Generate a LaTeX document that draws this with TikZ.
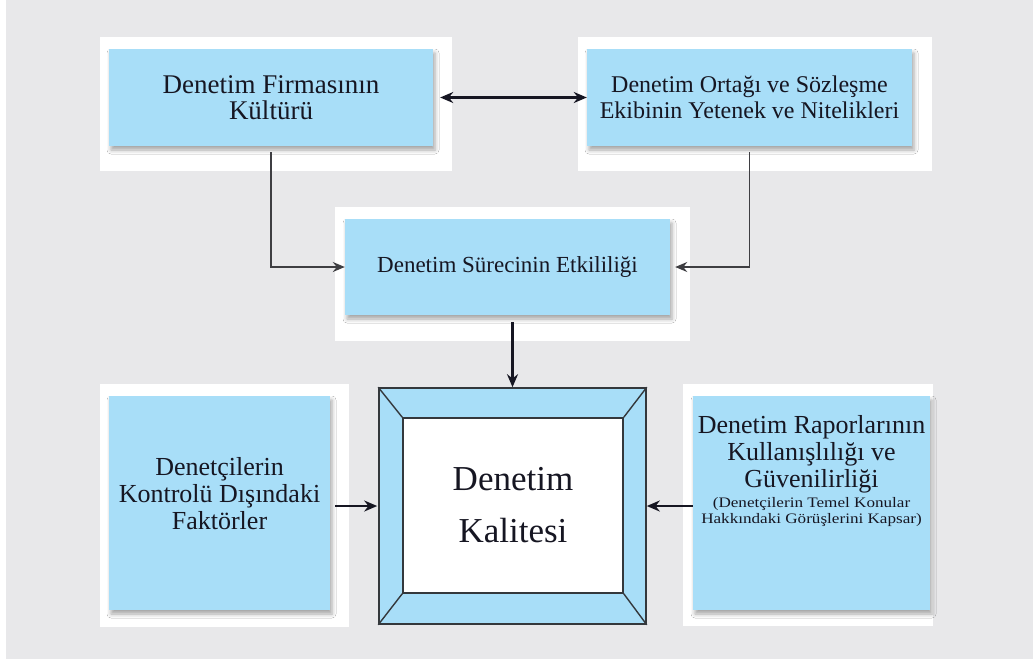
\documentclass[tikz,border=0pt]{standalone}
\usepackage{fontspec}
\setmainfont{Liberation Serif}
\newfontfamily\narrowfont[FakeStretch=1.18]{Liberation Serif}
\usetikzlibrary{arrows.meta,shadows.blur}
\definecolor{bg}{RGB}{232,232,234}
\definecolor{boxblue}{RGB}{168,222,248}
\definecolor{ink}{RGB}{22,22,34}
\definecolor{linec}{RGB}{62,62,66}
\definecolor{framec}{RGB}{52,56,60}
\begin{document}
\begin{tikzpicture}[x=1pt,y=-1pt,
  bluebox/.style={fill=boxblue, draw=none, inner sep=0pt, align=center, text=ink,
    blur shadow={shadow xshift=2pt, shadow yshift=-4pt, shadow blur radius=4pt, shadow opacity=35}},
  thinconn/.style={draw=linec, line width=1.6pt, -{Stealth[length=12pt,width=10pt]}},
  thickconn/.style={draw=ink, line width=2.6pt, -{Stealth[length=13pt,width=11pt]}},
  framebox/.style={draw=framec, line width=1.6pt, inner sep=0pt}
]
\useasboundingbox (0,0) rectangle (1033,662);
\fill[white] (0,0) rectangle (1033,662);
\fill[bg] (6,0) rectangle (1033,659);
% white mats
\fill[white] (100,37) rectangle (452,171);
\fill[white] (578,37) rectangle (932,171);
\fill[white] (335,207) rectangle (690,341);
\fill[white] (100,384) rectangle (349,627);
\fill[white] (683,384) rectangle (933,626);

\node[bluebox, minimum width=324, minimum height=97, font=\fontsize{27}{26}\selectfont] (n1) at (271,97.5) {Denetim Firmasının\\Kültürü};
\node[bluebox, minimum width=325, minimum height=97, font=\fontsize{24}{26}\selectfont] (n2) at (749.5,97.5) {Denetim Ortağı ve Sözleşme\\Ekibinin Yetenek ve Nitelikleri};
\node[bluebox, minimum width=325, minimum height=96, font=\fontsize{23}{26}\selectfont] (n3) at (507.5,267) {Denetim Sürecinin Etkililiği};
\node[bluebox, minimum width=221, minimum height=214, font=\fontsize{26}{27}\selectfont] (n5) at (219.5,503)
  {\raisebox{6pt}[\height][\depth]{\begin{tabular}{@{}c@{}}Denetçilerin\\Kontrolü Dışındaki\\Faktörler\end{tabular}}};
\node[bluebox, minimum width=237, minimum height=214, font=\fontsize{26}{27}\selectfont] (n6) at (811.5,503)
  {\raisebox{30pt}[\height][\depth]{\begin{tabular}{@{}c@{}}Denetim Raporlarının\\Kullanışlılığı ve\\Güvenilirliği\\[-7pt]
  {\narrowfont\fontsize{14.5}{15}\selectfont (Denetçilerin Temel Konular}\\[-11pt]
  {\narrowfont\fontsize{14.5}{15}\selectfont Hakkındaki Görüşlerini Kapsar)}\end{tabular}}};

% centre frame
\node[framebox, fill=boxblue, minimum width=267, minimum height=236] (fr) at (512.5,506) {};
\node[framebox, fill=white, minimum width=220, minimum height=175, text=ink, align=center,
  font=\fontsize{35}{52}\selectfont] (fi) at (513,505.5) {Denetim\\Kalitesi};
\draw[framec, line width=1.4pt] (fr.north west) -- (fi.north west);
\draw[framec, line width=1.4pt] (fr.north east) -- (fi.north east);
\draw[framec, line width=1.4pt] (fr.south west) -- (fi.south west);
\draw[framec, line width=1.4pt] (fr.south east) -- (fi.south east);

% connectors
\draw[thickconn, {Stealth[length=13pt,width=11pt]}-{Stealth[length=13pt,width=11pt]}, shorten <=7pt] (n1.east) -- (n2.west);
\draw[thinconn, shorten <=6pt] (n1.south) |- (n3.west);
\draw[thinconn, shorten <=6pt, shorten >=5pt] (n2.south) |- (n3.east);
\draw[thickconn, line width=2.2pt, shorten <=7pt] (n3.south -| fr.north) -- (fr.north);
\draw[thickconn, shorten <=5pt, shorten >=1pt] (n5.east |- fr.west) -- (fr.west);
\draw[thickconn] (n6.west |- fr.east) -- (fr.east);
\end{tikzpicture}
\end{document}
